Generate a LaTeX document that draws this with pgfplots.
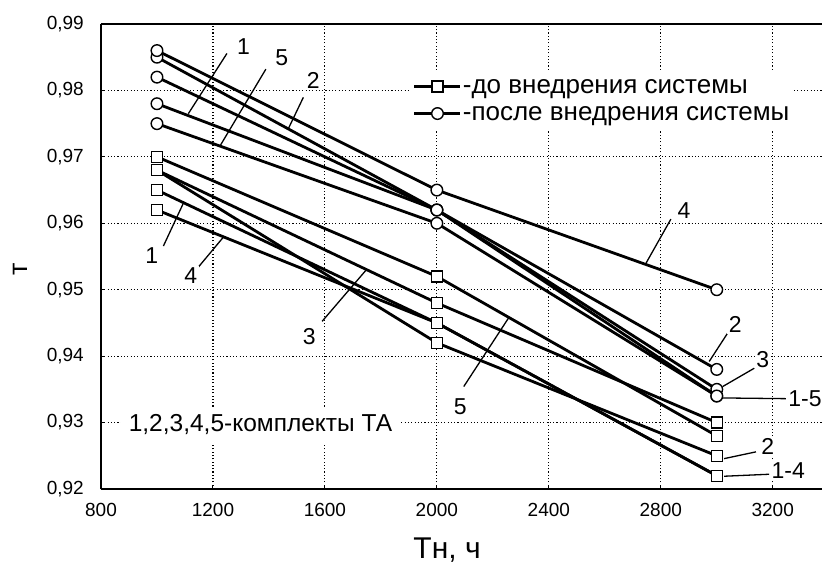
\documentclass[border=0pt]{standalone}
\usepackage{fontspec}
\setmainfont{Liberation Sans}
\usepackage{pgfplots}
\pgfplotsset{compat=1.18}
\tikzset{
  leader/.style={line width=1.3pt, black},
  lbl/.style={font=\fontsize{23}{24}\selectfont, fill=white, inner sep=1.5pt},
}
\pgfplotsset{
  sq/.style={mark=square*, mark size=5.5pt, mark options={fill=white, line width=1.4pt, solid}},
  ci/.style={mark=*, mark size=5.8pt, mark options={fill=white, line width=1.4pt, solid}},
}
\begin{document}
\begin{tikzpicture}
\path[use as bounding box] (-101pt,-76pt) rectangle (721pt,489pt);
\begin{axis}[
  at={(0pt,0pt)}, anchor=south west,
  scale only axis, width=721pt, height=465pt,
  xmin=800, xmax=3376, ymin=0.92, ymax=0.99,
  clip=false,
  axis x line*=box, axis y line*=left,
  x axis line style={-}, y axis line style={-},
  axis line style={line width=1.5pt, black},
  xtick={800,1200,1600,2000,2400,2800,3200},
  ytick={0.92,0.93,0.94,0.95,0.96,0.97,0.98,0.99},
  tick pos=left, tick align=inside, major tick length=3pt,
  tick style={black, line width=1pt},
  grid=major,
  grid style={black, line width=1.1pt, dash pattern=on 1.1pt off 2.2pt},
  /pgf/number format/assume math mode=true,
  xticklabel style={font=\fontsize{19}{20}\selectfont, anchor=north, inner sep=0pt, yshift=-14pt, /pgf/number format/1000 sep={}},
  yticklabel style={font=\fontsize{19}{20}\selectfont, anchor=east, inner sep=0pt, xshift=-17pt,
     /pgf/number format/.cd, fixed, fixed zerofill, precision=2, use comma},
  xlabel={Тн, ч},
  xlabel style={at={(axis description cs:0.48,0)}, anchor=center, inner sep=0pt, yshift=-61pt, font=\fontsize{30}{32}\selectfont},
  ylabel={т},
  ylabel style={at={(axis description cs:-0.1123,0.473)}, anchor=center, font=\fontsize{27}{29}\selectfont},
  every axis plot/.append style={black, line width=2.8pt},
  legend style={at={(axis cs:1900,0.98310)}, anchor=north west, draw=none, fill=white,
     font=\fontsize{26}{27}\selectfont, row sep=0pt, inner xsep=4pt, inner ysep=3pt,
     nodes={inner sep=1pt, text height=19pt, text depth=6pt}},
  legend cell align=left,
  legend image code/.code={\draw[mark repeat=2,mark phase=2] plot coordinates {(0pt,0pt) (23pt,0pt) (46pt,0pt)};},
]
% before (squares)
\addplot[sq] coordinates {(1000,0.965) (2000,0.945) (3000,0.922)};
\addlegendentry{-до внедрения системы}
% after (circles)
\addplot[ci] coordinates {(1000,0.978) (2000,0.962) (3000,0.934)};
\addlegendentry{-после внедрения системы}
\addplot[sq, forget plot] coordinates {(1000,0.968) (2000,0.942) (3000,0.925)};
\addplot[sq, forget plot] coordinates {(1000,0.968) (2000,0.948) (3000,0.930)};
\addplot[sq, forget plot] coordinates {(1000,0.962) (2000,0.945) (3000,0.922)};
\addplot[sq, forget plot] coordinates {(1000,0.970) (2000,0.952) (3000,0.928)};
\addplot[ci, forget plot] coordinates {(1000,0.985) (2000,0.962) (3000,0.938)};
\addplot[ci, forget plot] coordinates {(1000,0.982) (2000,0.962) (3000,0.935)};
\addplot[ci, forget plot] coordinates {(1000,0.986) (2000,0.965) (3000,0.950)};
\addplot[ci, forget plot] coordinates {(1000,0.975) (2000,0.960) (3000,0.934)};
% annotations
\draw[leader] (axis cs:1250,0.98557) -- (axis cs:1112,0.9765);
\node[lbl] at (axis cs:1309,0.98657) {1};
\draw[leader] (axis cs:1389,0.98320) -- (axis cs:1226,0.97170);
\node[lbl] at (axis cs:1446,0.98497) {5};
\draw[leader] (axis cs:1523,0.97896) -- (axis cs:1470,0.97430);
\node[lbl] at (axis cs:1558,0.98153) {2};
\draw[leader] (axis cs:1023,0.95658) -- (axis cs:1094,0.96300);
\node[lbl] at (axis cs:981,0.95507) {1};
\draw[leader] (axis cs:1148,0.95341) -- (axis cs:1237,0.95790);
\node[lbl] at (axis cs:1121,0.9522) {4};
\draw[leader] (axis cs:1590,0.94524) -- (axis cs:1748,0.95300);
\node[lbl] at (axis cs:1544,0.94298) {3};
\draw[leader] (axis cs:2096,0.93542) -- (axis cs:2257,0.94580);
\node[lbl] at (axis cs:2084,0.93239) {5};
\draw[leader] (axis cs:2836,0.96062) -- (axis cs:2746,0.95390);
\node[lbl] at (axis cs:2883,0.96198) {4};
\draw[leader] (axis cs:3039,0.94348) -- (axis cs:2973,0.9392);
\node[lbl] at (axis cs:3066,0.94474) {2};
\draw[leader] (axis cs:3134,0.93818) -- (axis cs:3021,0.93542);
\node[lbl] at (axis cs:3164,0.93946) {3};
\draw[leader] (axis cs:3247,0.93360) -- (axis cs:3015,0.93371);
\node[lbl, anchor=west] at (axis cs:3250,0.93356) {1-5};
\draw[leader] (axis cs:3140,0.92559) -- (axis cs:3026,0.92457);
\node[lbl] at (axis cs:3182,0.92635) {2};
\draw[leader] (axis cs:3187,0.92222) -- (axis cs:3026,0.92192);
\node[lbl, anchor=west] at (axis cs:3190,0.92282) {1-4};
\node[font=\fontsize{24.5}{26}\selectfont, fill=white, anchor=west, inner xsep=8pt, inner ysep=8pt] at (axis cs:870,0.92965) {1,2,3,4,5-комплекты ТА};
\end{axis}
\end{tikzpicture}
\end{document}
